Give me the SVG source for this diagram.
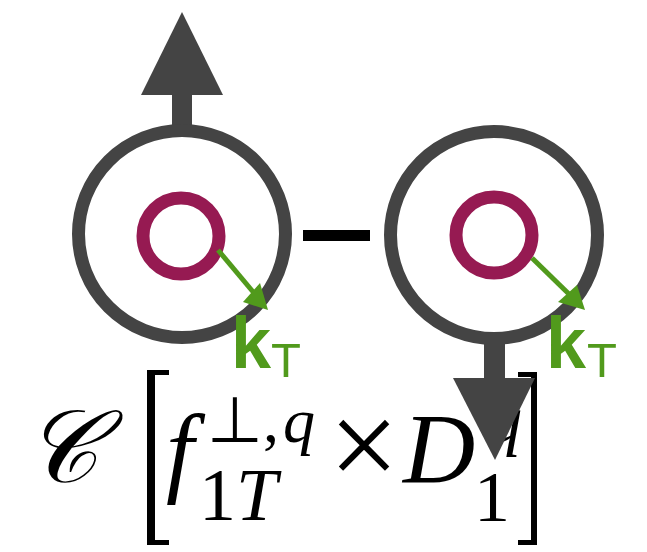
<svg xmlns="http://www.w3.org/2000/svg" width="647" height="552" viewBox="0 0 647 552">
<style>
.ring{fill:none;stroke:#444444;stroke-width:13}
.inner{fill:none;stroke:#961a52;stroke-width:13}
.spin{fill:#444444}
.kt{stroke:#519a1c;stroke-width:5;fill:none}
.kh{fill:#519a1c}
.k{font-family:"Liberation Sans",sans-serif;font-weight:bold;fill:#519a1c;font-size:72px}
.t{font-family:"Liberation Sans",sans-serif;fill:#519a1c;font-size:49px}
.m{font-family:"Liberation Serif",serif;fill:#000}
.i{font-style:italic}
</style>
<rect width="647" height="552" fill="#fff"/>
<g id="formula">
  <text class="m" x="24" y="482" font-size="102" font-style="italic">𝒞</text>
  <path d="M147,370H169V375H155V540H169V545H147Z" fill="#000"/>
  <text class="m i" x="166" y="484" font-size="100">f</text>
  <text class="m" x="207" y="442" font-size="64">⊥,<tspan class="i" dx="4">q</tspan></text>
  <text class="m" x="199" y="520" font-size="74">1<tspan class="i">T</tspan></text>
  <text class="m" x="329" y="487" font-size="124">×</text>
  <text class="m i" x="403" y="482" font-size="100">D</text>
  <text class="m i" x="487" y="442" font-size="70">q</text>
  <text class="m" x="474" y="521" font-size="72">1</text>
  <path d="M518,372H537V545H518V540H531V377H518Z" fill="#000"/>
</g>
<g id="minus"><rect x="303" y="230" width="67" height="11" fill="#000"/></g>
<g id="left-particle">
  <rect class="spin" x="172" y="93" width="20" height="40"/>
  <polygon class="spin" points="182,12 223,95 141,95"/>
  <circle class="ring" cx="182" cy="234" r="103.5"/>
  <circle class="inner" cx="181" cy="236" r="38"/>
  <line class="kt" x1="218" y1="250" x2="254" y2="293"/>
  <polygon class="kh" points="268,310 243,302 260,283"/>
  <text class="k" x="231" y="368">k</text>
  <text class="t" x="271" y="377">T</text>
</g>
<g id="right-particle">
  <circle class="ring" cx="494" cy="235" r="103.5"/>
  <circle class="inner" cx="494" cy="235" r="38"/>
  <line class="kt" x1="532" y1="258" x2="572" y2="297"/>
  <polygon class="kh" points="585,310 558,302 577,285"/>
  <text class="k" x="546" y="368">k</text>
  <text class="t" x="587" y="377">T</text>
  <rect class="spin" x="484" y="335" width="21" height="45"/>
  <polygon class="spin" points="453,378 535,378 495,460"/>
</g>
</svg>
